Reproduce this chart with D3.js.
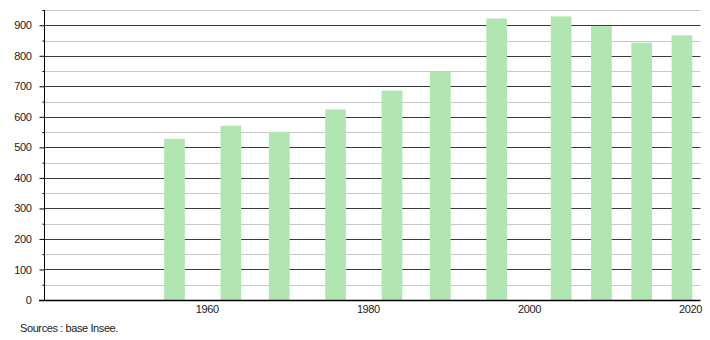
<!DOCTYPE html>
<html>
<head>
<meta charset="utf-8">
<script src="https://cdn.jsdelivr.net/npm/d3@7"></script>
<style>
  body { margin: 0; background: #fff; }
  svg { display: block; font-family: "Liberation Sans", Arial, sans-serif; }
</style>
</head>
<body>
<svg width="710" height="340"></svg>
<script>
const years = [1956, 1963, 1969, 1976, 1983, 1989, 1996, 2004, 2009, 2014, 2019];
const values = [528, 571, 551, 624, 686, 748, 922, 929, 897, 843, 867];
const xTicks = [1960, 1980, 2000, 2020];
const yTicks = [0, 100, 200, 300, 400, 500, 600, 700, 800, 900];
const yMinor = [50, 150, 250, 350, 450, 550, 650, 750, 850, 950];
const source = "Sources : base Insee.";

const plotLeft = 44, plotRight = 700.5, plotTop = 10, plotBottom = 300;
const barW = 20.7;

const svg = d3.select("svg");

const x = d3.scaleLinear().domain([1939.8, 2021.3]).range([plotLeft, plotRight]);
const y = d3.scaleLinear().domain([0, 950]).range([plotBottom, plotTop]);

// gridlines
svg.append("g")
  .selectAll("line")
  .data(yMinor)
  .join("line")
  .attr("x1", plotLeft).attr("x2", plotRight)
  .attr("y1", (d) => Math.round(y(d)) + 0.5)
  .attr("y2", (d) => Math.round(y(d)) + 0.5)
  .attr("stroke", "#c8c8c8");

svg.append("g")
  .selectAll("line")
  .data(yTicks.filter((d) => d > 0))
  .join("line")
  .attr("x1", plotLeft).attr("x2", plotRight)
  .attr("y1", (d) => Math.round(y(d)) + 0.5)
  .attr("y2", (d) => Math.round(y(d)) + 0.5)
  .attr("stroke", "#3a3a3a");

// bars
svg.append("g")
  .selectAll("rect")
  .data(years)
  .join("rect")
  .attr("x", (d) => x(d) - barW / 2)
  .attr("width", barW)
  .attr("y", (d, i) => y(values[i]))
  .attr("height", (d, i) => plotBottom - y(values[i]))
  .attr("fill", "#b1e5b1");

// y axis
const yAxis = svg.append("g")
  .attr("transform", `translate(${plotLeft + 0.5},0)`)
  .call(d3.axisLeft(y).tickValues(yTicks).tickSize(5).tickPadding(8));
yAxis.select(".domain").attr("d", `M0,${plotTop}V${plotBottom}`).attr("stroke", "#000");
yAxis.selectAll(".tick line").attr("stroke", "#000");
yAxis.selectAll(".tick text")
  .attr("font-family", "Liberation Sans, Arial, sans-serif")
  .attr("font-size", 11)
  .attr("letter-spacing", "-0.4px")
  .attr("fill", "#222");

svg.append("g")
  .attr("transform", `translate(${plotLeft + 0.5},0)`)
  .call(d3.axisLeft(y).tickValues(yMinor).tickSize(2).tickFormat(""))
  .call((g) => g.select(".domain").remove())
  .selectAll(".tick line").attr("stroke", "#000");

// x axis
const xAxis = svg.append("g")
  .attr("transform", `translate(0,${plotBottom + 0.5})`)
  .call(d3.axisBottom(x).tickValues(xTicks).tickFormat(d3.format("d")).tickSize(0).tickPadding(5));
xAxis.select(".domain").attr("d", `M${plotLeft - 5},0H${plotRight}`).attr("stroke", "#000").attr("stroke-width", 1.3);
xAxis.selectAll(".tick text")
  .attr("font-family", "Liberation Sans, Arial, sans-serif")
  .attr("font-size", 11)
  .attr("letter-spacing", "-0.4px")
  .attr("fill", "#222");

svg.append("text")
  .attr("x", 20)
  .attr("y", 332)
  .attr("font-size", 11)
  .attr("letter-spacing", "-0.4px")
  .attr("fill", "#222")
  .text(source);
</script>
</body>
</html>
